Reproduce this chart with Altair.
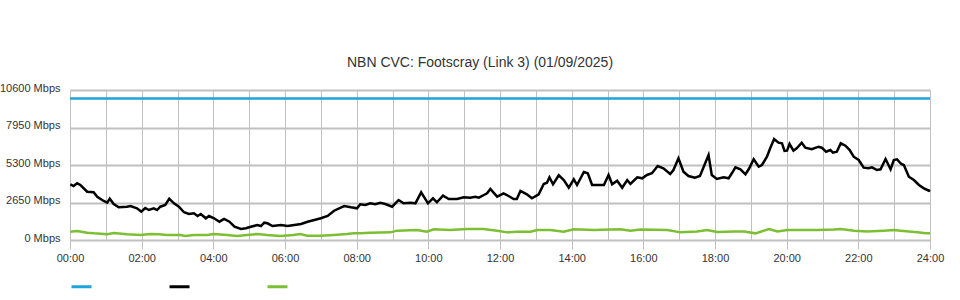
import altair as alt
import pandas as pd

# ---- data ----
series_names = ["Capacity", "Download", "Upload"]
series_colors = ["#1fa3dd", "#000000", "#7cbf33"]

cap_hours = [0, 24]
cap_mbps = [10000, 10000]

down_hours = [0.01, 0.10, 0.20, 0.29, 0.48, 0.66, 0.76, 0.94, 1.04, 1.11, 1.22, 1.36, 1.59, 1.69,
              1.87, 1.99, 2.10, 2.20, 2.34, 2.43, 2.52, 2.66, 2.77, 2.90, 3.04, 3.18, 3.32, 3.46,
              3.56, 3.65, 3.79, 3.88, 4.02, 4.17, 4.30, 4.45, 4.59, 4.77, 4.91, 5.05, 5.23, 5.33,
              5.42, 5.51, 5.65, 5.89, 6.07, 6.26, 6.45, 6.63, 6.82, 7.00, 7.19, 7.37, 7.65, 7.84,
              8.01, 8.10, 8.24, 8.38, 8.52, 8.66, 8.80, 8.99, 9.17, 9.31, 9.50, 9.64, 9.80, 9.99,
              10.13, 10.24, 10.41, 10.57, 10.80, 10.99, 11.17, 11.31, 11.41, 11.55, 11.64, 11.73,
              11.92, 12.10, 12.24, 12.38, 12.47, 12.57, 12.75, 12.89, 13.08, 13.22, 13.31, 13.38,
              13.48, 13.64, 13.78, 13.92, 14.06, 14.15, 14.34, 14.45, 14.57, 14.90, 15.03, 15.13,
              15.27, 15.41, 15.55, 15.64, 15.83, 15.97, 16.10, 16.24, 16.40, 16.56, 16.75, 16.84,
              16.98, 17.12, 17.26, 17.44, 17.58, 17.68, 17.82, 17.91, 18.05, 18.24, 18.38, 18.47,
              18.57, 18.71, 18.85, 18.94, 19.08, 19.22, 19.31, 19.45, 19.54, 19.65, 19.77, 19.87,
              19.94, 20.01, 20.08, 20.19, 20.28, 20.42, 20.52, 20.70, 20.89, 20.98, 21.10, 21.22,
              21.29, 21.40, 21.51, 21.64, 21.76, 21.87, 22.01, 22.15, 22.29, 22.38, 22.52, 22.62,
              22.76, 22.90, 22.99, 23.08, 23.20, 23.27, 23.41, 23.55, 23.69, 23.83, 23.97, 24.00]
down_mbps = [3936, 3816, 4007, 3887, 3413, 3371, 3060, 2756, 2636, 2919, 2544, 2311, 2353, 2403,
             2240, 2000, 2261, 2120, 2240, 2120, 2353, 2473, 2919, 2594, 2353, 1958, 1837, 1887,
             1696, 1837, 1534, 1696, 1534, 1293, 1484, 1293, 940, 777, 827, 940, 1060, 989,
             1223, 1180, 989, 1060, 989, 1060, 1131, 1293, 1413, 1534, 1696, 2071, 2403, 2311,
             2240, 2523, 2473, 2594, 2523, 2636, 2544, 2353, 2827, 2594, 2636, 2594, 3371, 2594,
             2947, 2664, 3131, 2897, 2897, 3017, 2989, 3060, 2989, 3180, 3300, 3604,
             3060, 3300, 3109, 2897, 2897, 3463, 3230, 2947, 3230, 3958, 4049, 4431,
             3936, 4572, 4240, 3696, 4290, 3887, 4806, 4714, 3887, 3887, 4594, 3936,
             4191, 3696, 4240, 3958, 4431, 4360, 4594, 4714, 5230, 5067, 4664, 4947,
             5774, 4827, 4523, 4403, 4523, 5138, 6007, 4594, 4311, 4431, 4360, 4714,
             5138, 4996, 4643, 4996, 5703, 5180, 5300, 5887, 6480, 7138, 6876, 6834,
             6290, 6311, 6784, 6311, 6480, 6876, 6523, 6410, 6593, 6523, 6240, 6360,
             6170, 6240, 6834, 6664, 6360, 5887, 5654, 5110, 5067, 5138, 4947, 4996,
             5724, 4996, 5654, 5703, 5371, 5300, 4473, 4240, 3887, 3654, 3484, 3534]

up_hours = [0.01, 0.20, 0.48, 0.67, 1.04, 1.22, 1.59, 1.97, 2.25, 2.48, 2.71, 3.08, 3.22, 3.45,
            3.83, 4.01, 4.38, 4.66, 4.94, 5.22, 5.50, 5.87, 6.24, 6.43, 6.62, 6.99, 7.36, 7.73,
            7.92, 8.10, 8.38, 8.94, 9.13, 9.68, 9.96, 10.15, 10.61, 11.08, 11.54, 11.92, 12.20,
            12.48, 12.85, 13.04, 13.41, 13.78, 14.06, 14.62, 15.08, 15.36, 15.64, 15.92, 16.67,
            17.04, 17.50, 17.78, 18.06, 18.53, 18.81, 19.13, 19.51, 19.74, 20.02, 20.39, 20.86,
            21.32, 21.51, 21.88, 22.25, 22.71, 22.99, 23.18, 23.65, 23.88, 24.00]
up_mbps = [590, 640, 520, 470, 400, 490, 400, 350, 420, 400, 350, 350, 280, 350,
           350, 420, 350, 280, 350, 420, 350, 280, 350, 420, 300, 300, 350, 420,
           470, 470, 520, 540, 660, 710, 590, 760, 710, 780, 780, 660, 540,
           590, 590, 710, 710, 590, 760, 710, 750, 760, 660, 750, 710,
           540, 600, 710, 570, 600, 600, 470, 780, 600, 710, 710, 710,
           750, 780, 660, 600, 660, 710, 660, 540, 470, 470]

y_ticks = [0, 2650, 5300, 7950, 10600]

frames = []
for name, hrs, vals in zip(series_names,
                           [cap_hours, down_hours, up_hours],
                           [cap_mbps, down_mbps, up_mbps]):
    frames.append(pd.DataFrame({"hour": hrs, "mbps": vals, "series": name}))
df = pd.concat(frames, ignore_index=True)

FONT = "Liberation Sans"
GRID = "#c0c0c0"

x = alt.X(
    "hour:Q",
    scale=alt.Scale(domain=[0, 24], nice=False, zero=False),
    axis=alt.Axis(
        title=None,
        values=list(range(25)),
        labelExpr="datum.value % 2 == 0 ? (datum.value < 10 ? '0' : '') + datum.value + ':00' : ''",
        tickSize={"condition": {"test": "datum.value % 2 == 0", "value": 9}, "value": 0},
        tickColor=GRID,
        grid=True,
        gridColor=GRID,
        gridWidth=1,
        domainColor=GRID,
        labelOverlap=False,
        labelFlush=False,
        labelPadding=3,
        labelFont=FONT,
        labelFontSize=11,
        labelColor="#333333",
    ),
)

y = alt.Y(
    "mbps:Q",
    scale=alt.Scale(domain=[0, 10600], nice=False),
    axis=alt.Axis(
        title=None,
        values=y_ticks,
        labelExpr="datum.value + ' Mbps'",
        ticks=False,
        domain=False,
        grid=True,
        gridColor=GRID,
        gridWidth=2,
        labelPadding=10,
        labelOffset=-2,
        labelFont=FONT,
        labelFontSize=11,
        labelColor="#333333",
    ),
)

color = alt.Color(
    "series:N",
    scale=alt.Scale(domain=series_names, range=series_colors),
    legend=alt.Legend(
        title=None,
        orient="none",
        legendX=0,
        legendY=185,
        direction="horizontal",
        symbolType="stroke",
        symbolSize=400,
        symbolStrokeWidth=3,
        labelExpr="''",
        labelOffset=0,
        columnPadding=65,
    ),
)

chart = (
    alt.Chart(df)
    .mark_line(strokeWidth=2.5)
    .encode(x=x, y=y, color=color, detail="series:N")
    .properties(
        width=860,
        height=150,
        autosize=alt.AutoSizeParams(type="none"),
        padding={"left": 70, "top": 90, "right": 30, "bottom": 60},
        title=alt.TitleParams(
            "NBN CVC: Footscray (Link 3) (01/09/2025)",
            font=FONT,
            fontSize=14,
            fontWeight="normal",
            color="#333333",
            offset=12,
            dx=-20,
        ),
    )
    .configure_view(stroke=None)
    .configure(background="white")
)

chart.save("out.html", embed_options={"renderer": "svg", "actions": False})
